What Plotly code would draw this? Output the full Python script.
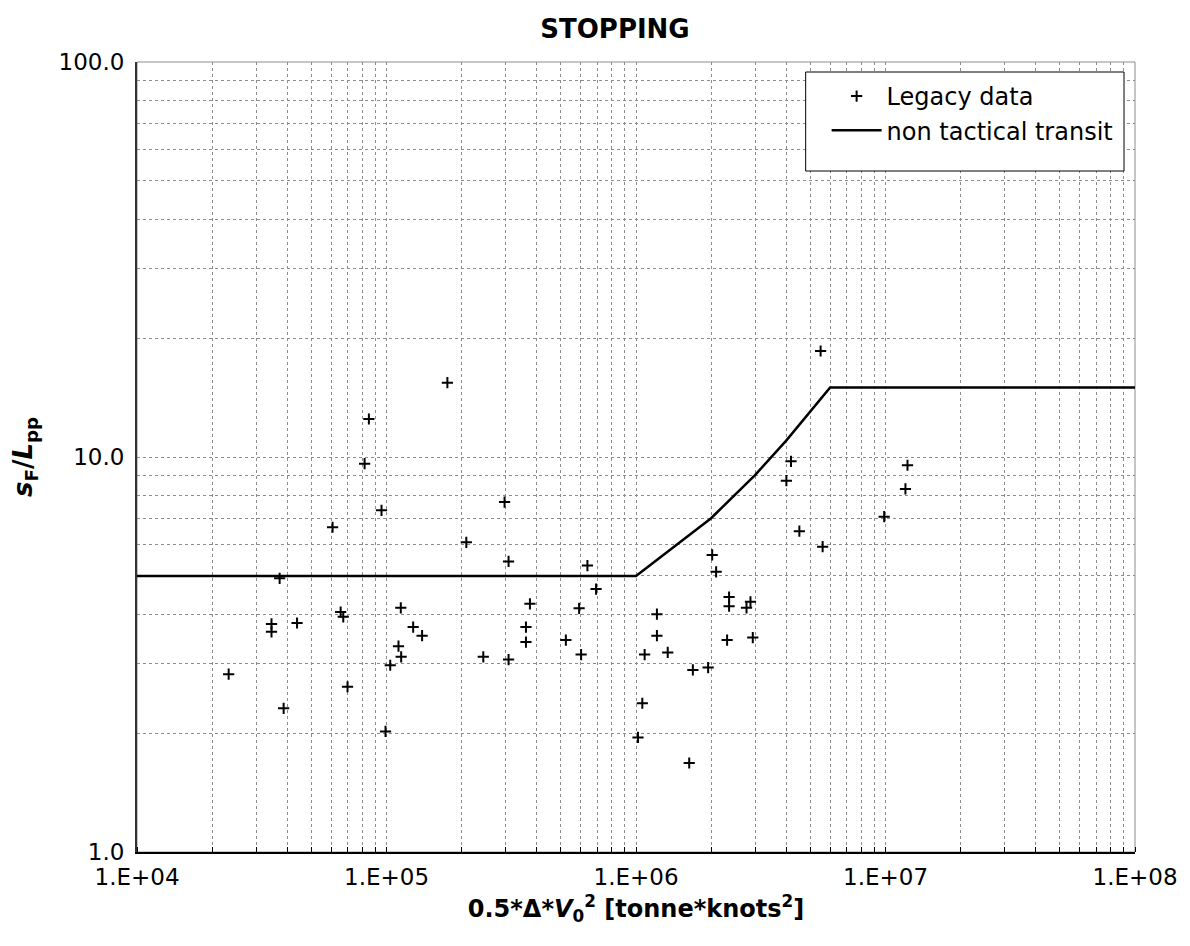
import plotly.graph_objects as go

# Legacy data
legacy_x = [2.33e4, 3.46e4, 3.46e4, 3.73e4, 3.87e4, 4.38e4, 6.08e4, 6.55e4, 6.71e4, 6.98e4,
            8.17e4, 8.50e4, 9.55e4, 9.91e4, 1.035e5, 1.117e5, 1.141e5, 1.145e5, 1.279e5, 1.389e5,
            1.754e5, 2.089e5, 2.443e5, 2.973e5, 3.085e5, 3.085e5, 3.622e5, 3.622e5, 3.757e5, 5.234e5,
            5.916e5, 6.026e5, 6.387e5, 6.918e5, 1.0186e6, 1.06e6, 1.083e6, 1.213e6, 1.213e6, 1.34e6,
            1.634e6, 1.69e6, 1.946e6, 2.02e6, 2.095e6, 2.318e6, 2.361e6, 2.361e6, 2.773e6, 2.876e6,
            2.938e6, 4.006e6, 4.18e6, 4.516e6, 5.495e6, 5.598e6, 9.88e6, 1.202e7, 1.225e7]
legacy_y = [2.82, 3.78, 3.61, 4.93, 2.31, 3.80, 6.64, 4.05, 3.94, 2.62,
            9.62, 12.48, 7.33, 2.02, 2.97, 3.32, 4.15, 3.12, 3.71, 3.53,
            15.42, 6.08, 3.12, 7.69, 5.44, 3.07, 3.71, 3.40, 4.25, 3.44,
            4.14, 3.16, 5.31, 4.63, 1.95, 2.38, 3.16, 4.00, 3.53, 3.20,
            1.68, 2.89, 2.93, 5.65, 5.12, 3.44, 4.42, 4.19, 4.15, 4.30,
            3.49, 8.71, 9.75, 6.49, 18.55, 5.93, 7.06, 8.30, 9.53]

# Non tactical transit curve
transit_x = [1e4, 1e6, 2e6, 3e6, 4e6, 5e6, 6e6, 1e8]
transit_y = [5, 5, 7, 9, 11, 13, 15, 15]

x_tickvals = [1e4, 1e5, 1e6, 1e7, 1e8]
x_ticktext = ["1.E+04", "1.E+05", "1.E+06", "1.E+07", "1.E+08"]
y_tickvals = [1, 10, 100]
y_ticktext = ["1.0", "10.0", "100.0"]

FONT = "DejaVu Sans"
W, H = 1190, 946
L, R, T, B = 137, 53, 62, 94
PW, PH = W - L - R, H - T - B


def px_to_paper(x, y):
    return (x - L) / PW, (H - B - y) / PH


fig = go.Figure()
fig.add_trace(go.Scatter(
    x=legacy_x, y=legacy_y, mode="markers", name="Legacy data",
    marker=dict(symbol="cross-thin", size=8, color="black",
                line=dict(color="black", width=2)),
))
fig.add_trace(go.Scatter(
    x=transit_x, y=transit_y, mode="lines", name="non tactical transit",
    line=dict(color="black", width=2.5),
))

grid = dict(gridcolor="#8c8c8c", griddash="dot", gridwidth=1)

lx0, ly0 = px_to_paper(807, 171)
lx1, ly1 = px_to_paper(1126, 72)
legx, legy = px_to_paper(828, 74)

fig.update_layout(
    width=W, height=H,
    margin=dict(l=L, r=R, t=T, b=B),
    paper_bgcolor="white", plot_bgcolor="white",
    font=dict(family=FONT, size=23, color="black"),
    title=dict(text="<b>STOPPING</b>", x=615 / W, xanchor="center", xref="container",
               y=1 - 29 / H, yanchor="middle",
               font=dict(family=FONT, size=26, color="black")),
    showlegend=True,
    legend=dict(x=legx, y=legy, xanchor="left", yanchor="top",
                bgcolor="rgba(0,0,0,0)", borderwidth=0,
                font=dict(family=FONT, size=24, color="black"),
                tracegroupgap=0, itemwidth=50),
    shapes=[
        dict(type="rect", xref="paper", yref="paper", x0=0, x1=1, y0=0, y1=1,
             line=dict(color="#8c8c8c", width=1), layer="below"),
        dict(type="rect", xref="paper", yref="paper", x0=lx0, x1=lx1, y0=ly0, y1=ly1,
             line=dict(color="black", width=1), fillcolor="white", layer="above"),
    ],
)

fig.update_xaxes(
    type="log", range=[4, 8], tickvals=x_tickvals, ticktext=x_ticktext,
    showline=True, linecolor="black", linewidth=1.5,
    ticks="", showgrid=True, ticklabelstandoff=4, **grid,
    minor=dict(showgrid=True, dtick="D1", ticks="inside", ticklen=5, tickcolor="black", **grid),
    title=dict(text="<b>0.5*Δ*<i>V</i><sub>0</sub><sup>2</sup> [tonne*knots<sup>2</sup>]</b>",
               font=dict(family=FONT, size=24, color="black"), standoff=11),
    zeroline=False,
)
fig.update_yaxes(
    type="log", range=[0, 2], tickvals=y_tickvals, ticktext=y_ticktext,
    showline=True, linecolor="#333333", linewidth=2,
    ticks="", showgrid=True, ticklabelstandoff=6, **grid,
    minor=dict(showgrid=True, dtick="D1", **grid),
    title=dict(text="<b><i>s</i><sub>F</sub>/<i>L</i><sub>pp</sub></b>",
               font=dict(family=FONT, size=26, color="black"), standoff=18),
    zeroline=False,
)

fig.write_html("out.html")
